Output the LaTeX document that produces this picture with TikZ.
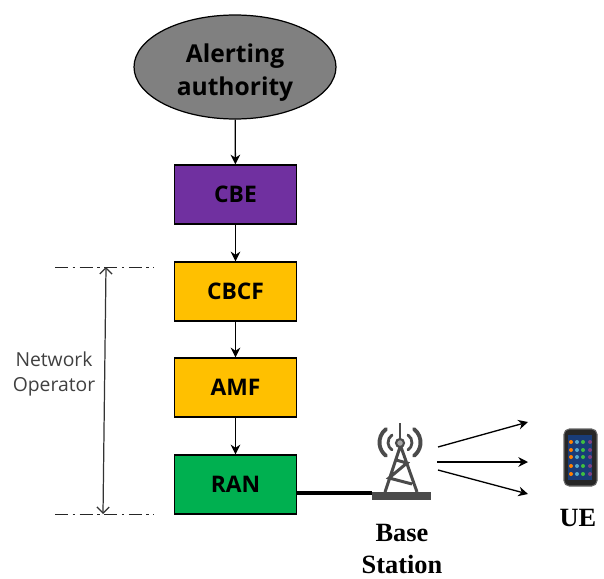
\documentclass[tikz,border=0pt]{standalone}
\usepackage{fontspec}
\setmainfont{Open Sans}
\newfontfamily\serifbold{Liberation Serif}
\usetikzlibrary{shapes.geometric,arrows.meta}
\definecolor{cbepurple}{RGB}{112, 48, 160}
\definecolor{coreyellow}{RGB}{255, 192, 0}
\definecolor{rangreen}{RGB}{0, 176, 80}
\definecolor{authgray}{RGB}{128, 128, 128}
\definecolor{towergray}{RGB}{75, 75, 75}
\definecolor{screenblue}{RGB}{25, 60, 120}
\tikzset{
	box/.style={draw=black, line width=0.8pt, minimum width=2.44cm, minimum height=1.18cm, inner sep=0pt, font=\fontsize{13}{15}\selectfont\bfseries},
	flow/.style={draw=black, line width=0.75pt, -{Stealth[length=5.5pt,width=5.5pt]}},
	limit/.style={draw=black!85, line width=0.55pt, dash pattern=on 7.5pt off 2.5pt on 1.5pt off 2.5pt},
	span/.style={draw=black!80, line width=0.7pt, {Straight Barb[length=3.5pt,width=7pt]}-{Straight Barb[length=3.5pt,width=7pt]}},
	caption/.style={font=\fontsize{15}{18}\selectfont\serifbold\bfseries, align=center, inner sep=0pt}
}
\begin{document}
\begin{tikzpicture}[x=0.02cm, y=-0.02cm]
	\useasboundingbox (0, 0) rectangle (604, 578);
	\node [ellipse, draw=black, line width=0.7pt, fill=authgray, minimum width=4.04cm, minimum height=2.08cm, inner sep=0pt, align=center, font=\fontsize{14}{18.8}\selectfont\bfseries] (authority) at (235, 67) {\rule{0pt}{16.5pt}Alerting\\authority};
	\node [box, fill=cbepurple] (cbe) at (235.5, 194.5) {CBE};
	\node [box, fill=coreyellow] (cbcf) at (235.5, 291.5) {CBCF};
	\node [box, fill=coreyellow] (amf) at (235.5, 387.5) {AMF};
	\node [box, fill=rangreen] (ran) at (235.5, 484.5) {RAN};
	\draw [flow] (authority) -- (cbe);
	\draw [flow] (cbe) -- (cbcf);
	\draw [flow] (cbcf) -- (amf);
	\draw [flow] (amf) -- (ran);

	\coordinate (limitTopL) at (55, 267);
	\coordinate (limitTopR) at (154, 267);
	\coordinate (limitBotL) at (55, 514);
	\coordinate (limitBotR) at (154, 514);
	\coordinate (spanTop) at (106, 267);
	\coordinate (spanBot) at (103, 514);
	\draw [limit] (limitTopL) -- (limitTopR);
	\draw [limit] (limitBotL) -- (limitBotR);
	\draw [span] (spanTop) -- (spanBot);
	\node [align=center, inner sep=0pt, text=black!75, font=\fontsize{11}{14}\selectfont] (operator) at (54, 374) {Network\\Operator};

	% tower
	\node [fill=towergray, minimum width=1.18cm, minimum height=0.17cm, inner sep=0pt] (towerbase) at (401.5, 496) {};
	\draw [line width=1.7pt, towergray] (400, 447) -- (385, 492) (401, 447) -- (417, 492)
		(396, 460) -- (407, 463) -- (389, 478) -- (412, 484);
	\draw [line width=0.7pt, towergray] (400, 423) -- (400, 440);
	\filldraw [draw=towergray, fill=gray!70, line width=1.2pt] (400, 443) circle (4);
	\draw [line width=1.6pt, towergray, line cap=round] (392, 435) arc (236:124:9);
	\draw [line width=1.6pt, towergray, line cap=round] (408, 435) arc (-56:56:9);
	\draw [line width=2.2pt, towergray, line cap=round] (386, 429) arc (232:128:17);
	\draw [line width=2.2pt, towergray, line cap=round] (414, 429) arc (-52:52:17);

	\coordinate (ranOut) at (ran.east |- 0, 493);
	\draw [line width=1.8pt, black] (ranOut) -- (towerbase.west |- ranOut);

	\coordinate (beamA) at (438, 447);
	\coordinate (beamB) at (437, 462);
	\coordinate (beamC) at (438, 470);
	\coordinate (ueA) at (528, 422);
	\coordinate (ueB) at (528, 462);
	\coordinate (ueC) at (528, 494);
	\draw [flow] (beamA) -- (ueA);
	\draw [flow] (beamB) -- (ueB);
	\draw [flow] (beamC) -- (ueC);

	% phone
	\filldraw [draw=black!60, fill=black!85, line width=0.6pt, rounded corners=3pt] (564, 429) rectangle (597, 486);
	\fill [screenblue] (568, 435) rectangle (592, 480);
	\foreach \row in {442, 450, 457, 466, 474} {
		\foreach \col/\shade in {571/orange, 577/cyan!60!gray, 583/green!50!gray, 590/violet!50!gray} {
			\fill [\shade] (\col, \row) circle (2);
		}
	}

	\node [caption] (basestation) at (402, 549) {Base\\Station};
	\node [caption] (ue) at (578, 518) {UE};
\end{tikzpicture}
\end{document}
